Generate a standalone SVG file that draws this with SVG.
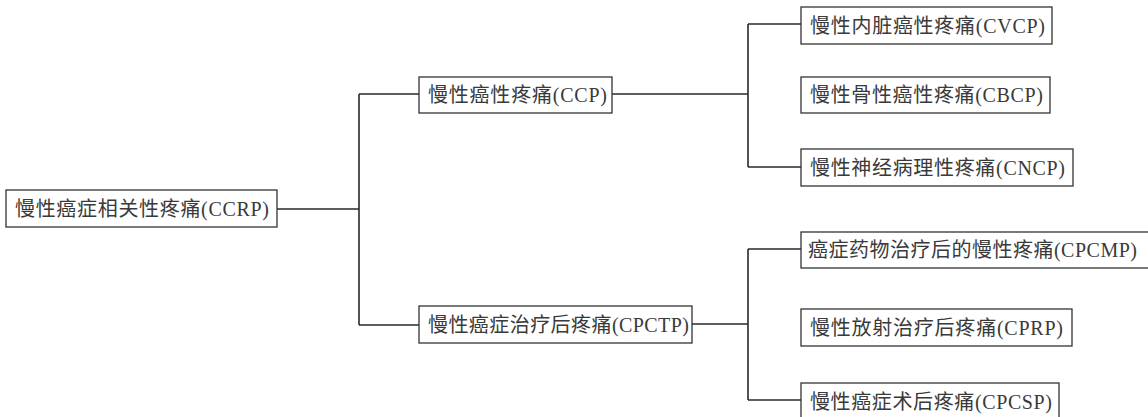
<svg xmlns="http://www.w3.org/2000/svg" width="1148" height="417" viewBox="0 0 1148 417">
<style>
.box{fill:#fff;stroke:#333;stroke-width:1.3}
.lbl{font-family:"Liberation Serif","Noto Sans CJK SC",serif;font-size:20px;fill:#3a3a3a;dominant-baseline:central}
.con{fill:none;stroke:#2a2a2a;stroke-width:1.6}
</style>
<rect width="1148" height="417" fill="#fff"/>
<g id="connectors">
<path class="con" d="M277,209 H359 M359,94 V325 M359,94 H419 M359,325 H419"/>
<path class="con" d="M612,94 H748 M748,24 V167 M748,24 H801 M748,167 H801"/>
<path class="con" d="M692,324 H748 M748,249 V400 M748,249 H801 M748,400 H801"/>
</g>
<g id="n-ccrp"><rect class="box" x="6" y="190" width="271" height="37"/><text class="lbl" x="15" y="209" textLength="254">慢性癌症相关性疼痛(CCRP)</text></g>
<g id="n-ccp"><rect class="box" x="419" y="77" width="193" height="36"/><text class="lbl" x="428" y="95" textLength="179">慢性癌性疼痛(CCP)</text></g>
<g id="n-cpctp"><rect class="box" x="419" y="306" width="273" height="37"/><text class="lbl" x="428" y="325" textLength="261">慢性癌症治疗后疼痛(CPCTP)</text></g>
<g id="n-cvcp"><rect class="box" x="801" y="7" width="251" height="37"/><text class="lbl" x="810" y="26" textLength="235">慢性内脏癌性疼痛(CVCP)</text></g>
<g id="n-cbcp"><rect class="box" x="801" y="77" width="249" height="36"/><text class="lbl" x="810" y="95" textLength="233">慢性骨性癌性疼痛(CBCP)</text></g>
<g id="n-cncp"><rect class="box" x="801" y="149" width="272" height="37"/><text class="lbl" x="810" y="168" textLength="255">慢性神经病理性疼痛(CNCP)</text></g>
<g id="n-cpcmp"><rect class="box" x="801" y="232" width="350" height="36"/><text class="lbl" x="808" y="250" textLength="329">癌症药物治疗后的慢性疼痛(CPCMP)</text></g>
<g id="n-cprp"><rect class="box" x="801" y="309" width="271" height="37"/><text class="lbl" x="810" y="328" textLength="253">慢性放射治疗后疼痛(CPRP)</text></g>
<g id="n-cpcsp"><rect class="box" x="801" y="383" width="258" height="40"/><text class="lbl" x="810" y="402" textLength="242">慢性癌症术后疼痛(CPCSP)</text></g>
</svg>
